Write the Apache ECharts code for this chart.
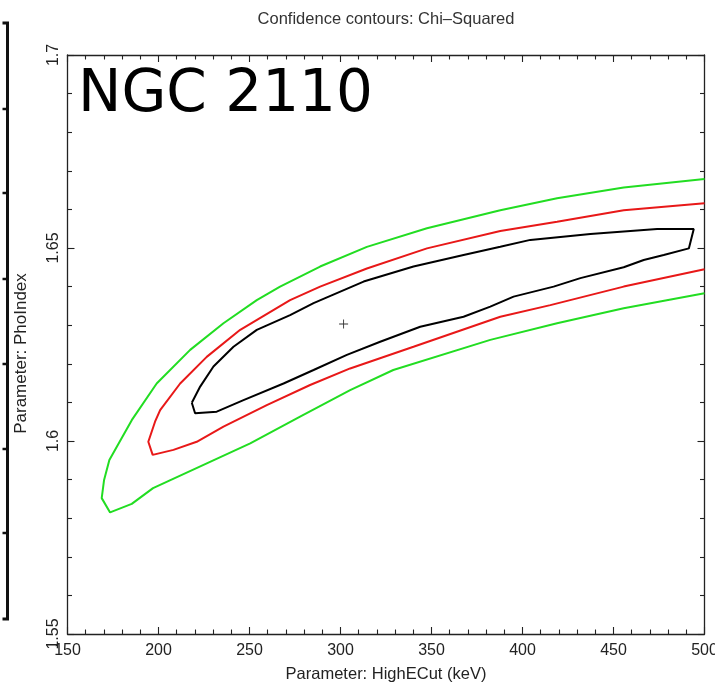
<!DOCTYPE html>
<html>
<head>
<meta charset="utf-8">
<script src="https://cdn.jsdelivr.net/npm/echarts@6/dist/echarts.min.js"></script>
<style>
html,body{margin:0;padding:0;background:#fff;}
#chart{width:715px;height:685px;}
</style>
</head>
<body>
<div id="chart"></div>
<script>
// ---- data (HighECut keV, PhoIndex) ----
var greenX = [500, 455.6, 419.0, 387.8, 347.5, 314.5, 288.8, 266.8, 254.0, 235.7, 217.4, 199.0, 185.3, 173.0, 170.1, 168.8, 173.4, 185.3, 197.0, 250.4, 277.8, 305.3, 329.0, 382.3, 419.0, 455.6, 500];
var greenY = [1.6679, 1.6657, 1.6629, 1.6598, 1.6551, 1.6503, 1.6452, 1.6400, 1.6365, 1.6305, 1.6236, 1.6149, 1.6054, 1.5951, 1.5899, 1.5852, 1.5815, 1.5837, 1.5878, 1.5994, 1.6063, 1.6132, 1.6184, 1.6262, 1.6305, 1.6344, 1.6383];

var redX = [500, 455.6, 419.0, 387.8, 347.5, 314.5, 288.8, 272.3, 244.9, 226.5, 211.9, 200.9, 198.1, 194.4, 196.8, 208.2, 221.0, 235.7, 259.5, 283.3, 305.3, 340.1, 387.8, 415.3, 455.6, 500];
var redY = [1.6616, 1.6598, 1.6568, 1.6544, 1.6499, 1.6447, 1.6400, 1.6365, 1.6288, 1.6218, 1.6149, 1.6080, 1.6050, 1.5998, 1.5964, 1.5977, 1.5998, 1.6037, 1.6093, 1.6145, 1.6188, 1.6244, 1.6322, 1.6352, 1.6400, 1.6445];

var blackX = [218.3, 222.9, 230.2, 241.2, 254.0, 272.3, 285.2, 312.7, 340.1, 367.6, 387.8, 404.3, 437.3, 474.0, 494.1, 491.4, 477.6, 466.6, 455.6, 431.8, 417.1, 395.1, 382.3, 367.6, 343.8, 321.8, 303.5, 285.2, 268.7, 246.7, 232.0, 220.1, 218.3];
var blackY = [1.6099, 1.6141, 1.6193, 1.6244, 1.6288, 1.6326, 1.6357, 1.6413, 1.6452, 1.6482, 1.6503, 1.6521, 1.6536, 1.6549, 1.6549, 1.6499, 1.6482, 1.6469, 1.6450, 1.6422, 1.6400, 1.6374, 1.6348, 1.6322, 1.6296, 1.6257, 1.6223, 1.6184, 1.6149, 1.6106, 1.6076, 1.6072, 1.6099];

var bestFit = [301.7, 1.6303];

var xRange = [150, 500];
var yRange = [1.55, 1.7];
var xStep = 50;
var yStep = 0.05;

var titleText = 'Confidence contours: Chi\u2013Squared';
var xName = 'Parameter: HighECut (keV)';
var yName = 'Parameter: PhoIndex';
var panelLabel = 'NGC 2110';
var leftFrameTicks = [108, 192, 278, 363, 448, 532];

function pairs(xs, ys) {
  var out = [];
  for (var i = 0; i < xs.length; i++) out.push([xs[i], ys[i]]);
  return out;
}

var chart = echarts.init(document.getElementById('chart'), null, {renderer: 'canvas'});
var axisColor = '#222';
var fontFam = '"Liberation Sans", Arial, Helvetica, sans-serif';

function makeAxis(base, extra) {
  return Object.assign({
    type: 'value',
    axisLine: {show: true, onZero: false, lineStyle: {color: axisColor, width: 1.3}},
    axisTick: {show: true, inside: true, length: 7, lineStyle: {color: axisColor, width: 1.1}},
    minorTick: {show: true, splitNumber: 5, length: 4.5, lineStyle: {color: axisColor, width: 1.1}},
    splitLine: {show: false},
    minorSplitLine: {show: false}
  }, base, extra || {});
}

var leftFrame = [
  {type: 'polyline', shape: {points: [[0, 0], [5, 0], [5, 596], [0, 596]]}, style: {stroke: '#111', lineWidth: 3, fill: null}}
];
leftFrameTicks.forEach(function (y) {
  leftFrame.push({type: 'line', shape: {x1: 0, y1: y - 22, x2: 5, y2: y - 22}, style: {stroke: '#111', lineWidth: 2.5}});
});

var option = {
  backgroundColor: '#fff',
  animation: false,
  title: {
    text: titleText,
    left: 381,
    top: 6,
    textAlign: 'center',
    textStyle: {fontFamily: fontFam, fontSize: 16.5, fontWeight: 'normal', color: '#333'}
  },
  grid: {left: 67.5, right: 10.5, top: 55, bottom: 51, containLabel: false, outerBoundsMode: 'none'},
  xAxis: [
    makeAxis({min: xRange[0], max: xRange[1], interval: xStep, position: 'bottom',
      name: xName, nameLocation: 'middle', nameGap: 32,
      nameTextStyle: {fontFamily: fontFam, fontSize: 16.5, color: '#222'},
      axisLabel: {show: true, margin: 9, fontFamily: fontFam, fontSize: 16, color: '#222'}}),
    makeAxis({min: xRange[0], max: xRange[1], interval: xStep, position: 'top',
      axisLabel: {show: false}})
  ],
  yAxis: [
    makeAxis({min: yRange[0], max: yRange[1], interval: yStep, position: 'left',
      name: yName, nameLocation: 'middle', nameGap: 38,
      nameTextStyle: {fontFamily: fontFam, fontSize: 17, color: '#222', padding: [0, 18, 0, 0]},
      axisLabel: {show: true, rotate: 90, margin: 6, fontFamily: fontFam, fontSize: 16, color: '#222'}}),
    makeAxis({min: yRange[0], max: yRange[1], interval: yStep, position: 'right',
      axisLabel: {show: false}})
  ],
  series: [
    {type: 'line', name: '99%', data: pairs(greenX, greenY), showSymbol: false, symbol: 'none',
      lineStyle: {color: '#22dd22', width: 2}, clip: true},
    {type: 'line', name: '90%', data: pairs(redX, redY), showSymbol: false, symbol: 'none',
      lineStyle: {color: '#e81818', width: 2}, clip: true},
    {type: 'line', name: '68%', data: pairs(blackX, blackY), showSymbol: false, symbol: 'none',
      lineStyle: {color: '#000', width: 2}, clip: true},
    {type: 'scatter', name: 'best', data: [bestFit],
      symbol: 'path://M0,4.5h10v1h-10z M4.5,0h1v10h-1z', symbolSize: 9,
      itemStyle: {color: '#000'}}
  ],
  graphic: [
    {type: 'text', left: 78, top: 67, style: {text: panelLabel, font: '58px "DejaVu Sans"', fill: '#000'}},
    {type: 'group', left: 0, top: 20.5, children: leftFrame}
  ]
};
chart.setOption(option);
</script>
</body>
</html>
